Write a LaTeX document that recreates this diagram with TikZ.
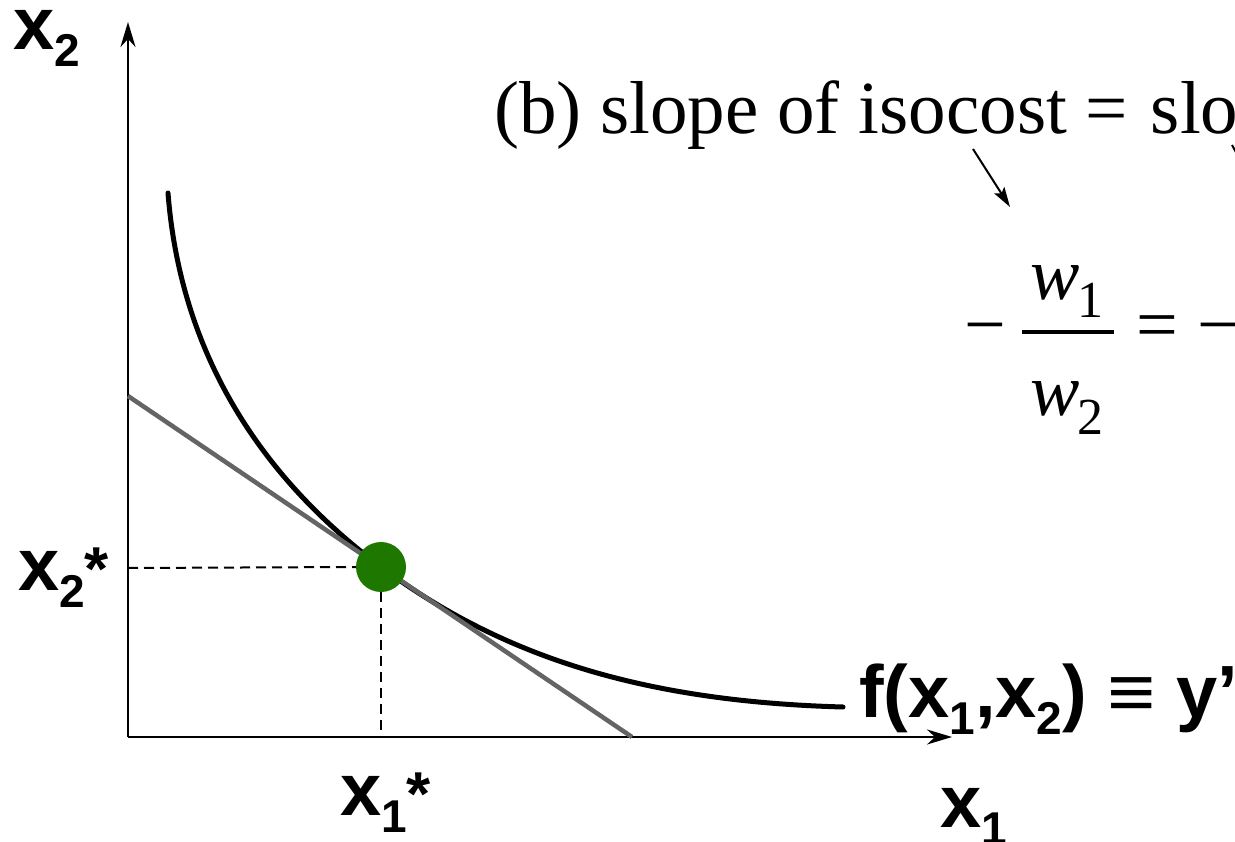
\documentclass[tikz,border=0pt]{standalone}
\usepackage{fontspec}
\setmainfont{Liberation Serif}
\newfontfamily\arialb{Liberation Sans Bold}
\usetikzlibrary{arrows.meta}
\definecolor{dotgreen}{RGB}{30,120,0}
\definecolor{linegray}{RGB}{100,100,100}
\newcommand{\lsub}[1]{\raisebox{-17pt}{\fontsize{46}{46}\selectfont #1}}
\newcommand{\lstar}{{\fontsize{62}{62}\selectfont *}}
\begin{document}
\begin{tikzpicture}[x=1pt,y=-1pt,
  axis/.style={line width=2.5pt,-{Stealth[length=25pt,width=15pt,inset=8pt]}},
  sanslab/.style={anchor=base west,inner sep=0pt,font=\arialb\fontsize{74}{74}\selectfont},
  serlab/.style={anchor=base west,inner sep=0pt,font=\fontsize{74}{74}\selectfont},
  sersub/.style={anchor=base west,inner sep=0pt,font=\fontsize{52}{52}\selectfont},
  guide/.style={line width=2pt,dash pattern=on 10pt off 6pt}]
\path[use as bounding box] (0,0) rectangle (1235,842);
% axes
\coordinate (O) at (128,737);
\coordinate (ytip) at (128,22);
\coordinate (xtip) at (952,737);
\draw[axis] (O) -- (ytip);
\draw[axis] (O) -- (xtip);
% isoquant
\coordinate (q0) at (168,193);
\coordinate (qt) at (405,584);
\coordinate (q1) at (843,707);
\draw[line width=5pt,line cap=round] (q0) .. controls (182,373) and (280,499) .. (qt)
  .. controls (525,665.5) and (663,702) .. (q1);
% isocost
\coordinate (c1) at (128,396);
\coordinate (c2) at (632,737);
\draw[linegray,line width=4.5pt] (c1) -- (c2);
% optimum
\coordinate (yst) at (128,568);
\coordinate (xst) at (381,737);
\node[circle,fill=dotgreen,minimum size=50pt,inner sep=0pt] (opt) at (381,567) {};
\draw[guide] (yst) -- (opt.west);
\draw[guide] (opt.south) -- (xst);
% axis labels
\node[sanslab] (lx2) at (13,50) {x\lsub{2}};
\node[sanslab] (lx1) at (940,827) {x\lsub{1}};
\node[sanslab] (lx2s) at (18,590) {x\lsub{2}\lstar};
\node[sanslab] (lx1s) at (340,815) {x\lsub{1}\lstar};
\node[sanslab] (lf) at (859,717) {f(x\lsub{1},x\lsub{2}) \scalebox{1.12}[1]{≡} y’};
% annotation
\node[anchor=base west,inner sep=0pt,font=\fontsize{75}{75}\selectfont] (title) at (494,134) {(b) slope of isocost =\hspace{4pt} slo};
\coordinate (a1) at (973,149);
\coordinate (a2) at (1010,207);
\draw[line width=2pt,-{Stealth[length=20pt,width=12pt,inset=4pt]}] (a1) -- (a2);
\coordinate (b1) at (1232,145);
\coordinate (b2) at (1238,156);
\draw[line width=2pt] (b1) -- (b2);
\node[serlab] (m1) at (964,350) {−};
\node[serlab] (w1) at (1030,300) {\itshape w};
\node[sersub] (s1) at (1077,318) {1};
\node[serlab] (w2) at (1030,416) {\itshape w};
\node[sersub] (s2) at (1077,435) {2};
\coordinate (f1) at (1022,332);
\coordinate (f2) at (1114,332);
\draw[line width=3.5pt] (f1) -- (f2);
\node[serlab] (eq) at (1136,350) {=};
\node[serlab] (m2) at (1197,350) {−};
\end{tikzpicture}
\end{document}
